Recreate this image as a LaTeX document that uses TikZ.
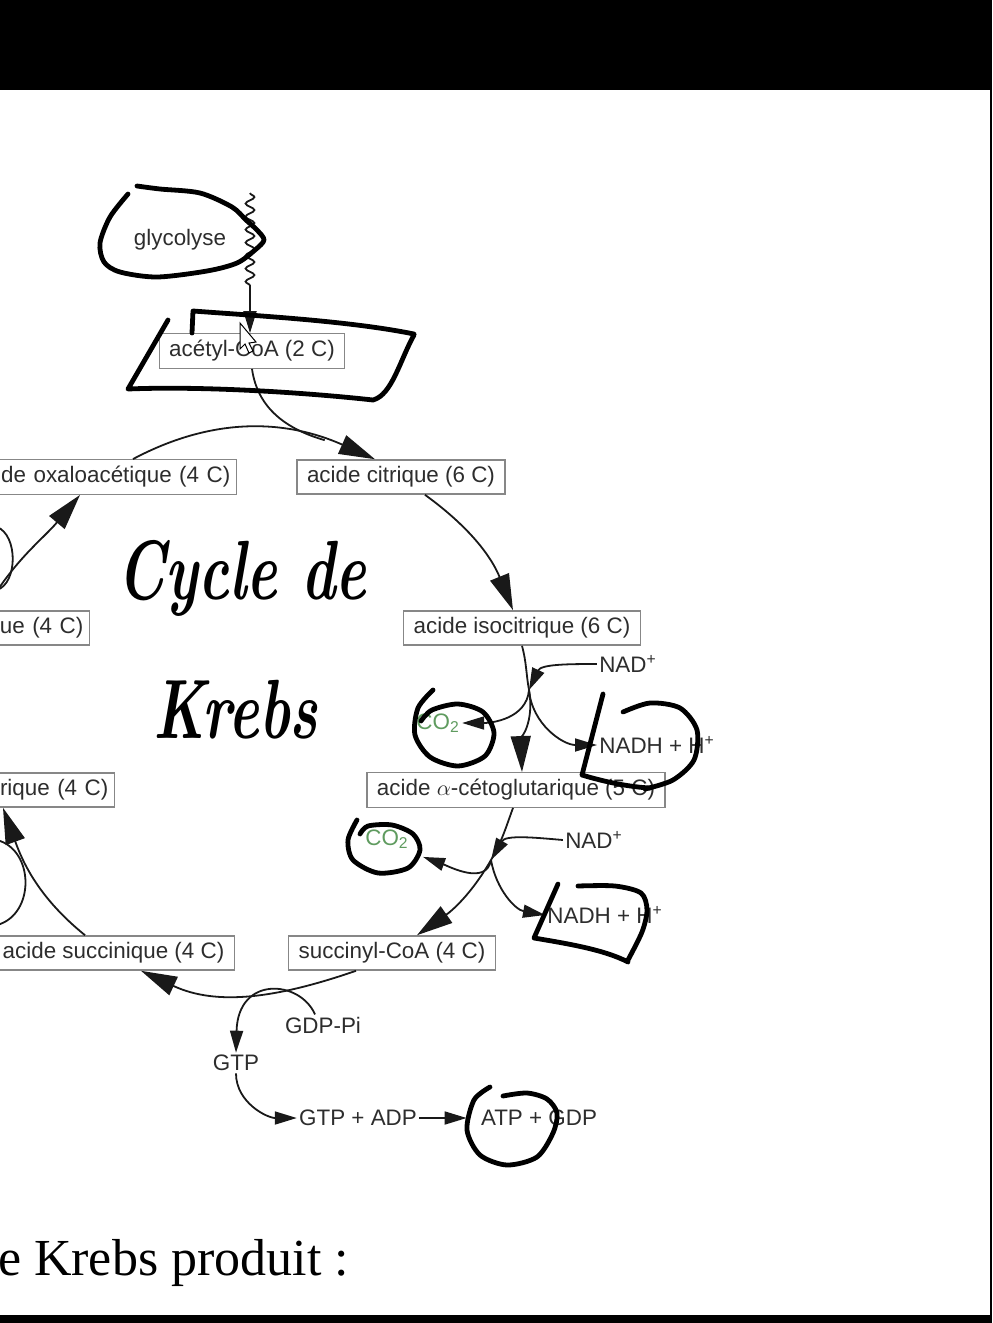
\documentclass[tikz,border=0pt]{standalone}
\usepackage{fontspec}
\setmainfont{Liberation Serif}
\newfontfamily\sansetiq{Liberation Sans}
\usetikzlibrary{arrows.meta,positioning,decorations.pathmorphing}

\definecolor{boxgris}{RGB}{135,135,135}
\definecolor{textegris}{RGB}{45,45,45}
\definecolor{flechenoir}{RGB}{25,25,25}
\definecolor{co2vert}{RGB}{95,155,95}

\tikzset{
    etape/.style={draw=boxgris, line width=0.7pt, inner xsep=5pt, minimum height=16pt, text=textegris, font=\sansetiq\fontsize{11.2}{13}\selectfont},
    coupe/.style={etape, anchor=east, align=right, inner xsep=3pt},
    molec/.style={inner sep=1pt, text=textegris, font=\sansetiq\fontsize{11.2}{13}\selectfont},
    gaz/.style={molec, text=co2vert},
    trait/.style={line width=0.9pt, draw=flechenoir},
    tour/.style={trait, -{Triangle[length=18pt,width=10pt]}},
    reac/.style={trait, -{Triangle[length=11pt,width=6.5pt]}},
    feutre/.style={line width=2.4pt, line cap=round, line join=round},
    manus/.style={font=\fontspec{Latin Modern Roman}\bfseries\itshape\fontsize{29}{34}\selectfont, yscale=1.45, transform shape},
}

\begin{document}
\begin{tikzpicture}[x=0.5pt, y=0.5pt]
    \useasboundingbox (0,0) rectangle (992,-1323);
    \clip (0,0) rectangle (992,-1323);
    \fill[black] (0,0) rectangle (992,-90);
    \fill[black] (0,-1315) rectangle (992,-1323);
    \fill[black] (990,0) rectangle (992,-1323);

    \node [molec] (glyco) at (180,-240) {glycolyse};
    \node [etape] (acetyl) at (252,-351) {acétyl-CoA (2 C)};
    \node [coupe, text width=130pt] (oxalo) at (237,-477) {de oxaloacétique (4 C)};
    \node [etape] (citrique) at (401,-477) {acide citrique (6 C)};
    \node [coupe, text width=60pt] (malique) at (90,-628) {ue (4 C)};
    \node [etape] (isocitrique) at (522,-628) {acide isocitrique (6 C)};
    \node [coupe, text width=70pt] (fumarique) at (115,-790) {rique (4 C)};
    \node [etape] (ceto) at (516,-790) {acide $\alpha$-cétoglutarique (5 C)};
    \node [etape, anchor=east] (succinique) at (235,-953) {acide succinique (4 C)};
    \node [etape] (succinyl) at (392,-953) {succinyl-CoA (4 C)};

    \node [molec] (nad1) at (628,-664) {NAD\textsuperscript{+}};
    \node [molec, anchor=west] (nadh1) at (597,-745) {NADH + H\textsuperscript{+}};
    \node [gaz, anchor=west] (co2a) at (414,-723) {CO\textsubscript{2}};
    \node [molec] (nad2) at (594,-840) {NAD\textsuperscript{+}};
    \node [molec, anchor=west] (nadh2) at (545,-915) {NADH + H\textsuperscript{+}};
    \node [gaz] (co2b) at (387,-839) {CO\textsubscript{2}};
    \node [molec] (gdp) at (323,-1025) {GDP-Pi};
    \node [molec] (gtp) at (236,-1063) {GTP};
    \node [molec] (gtpadp) at (358,-1118) {GTP + ADP};
    \node [molec] (atpgdp) at (539,-1118) {ATP + GDP};

    \coordinate (glydep) at (250,-193);
    \coordinate (j1) at (529,-690);
    \coordinate (j2) at (491,-860);
    \coordinate (fadhaut) at (-3,-840);
    \coordinate (fadbas) at (-3,-925);
    \coordinate (nadhaut) at (-3,-527);
    \coordinate (nadbas) at (-3,-590);

    \draw [reac, decorate, decoration={snake, amplitude=2.2pt, segment length=6.5pt, post length=22pt}] (glydep) -- (acetyl.north -| glydep);

    \draw [tour] ([xshift=-52pt]oxalo.north east) to[out=28, in=156] coordinate[pos=0.8] (fusion) ([xshift=-13pt]citrique.north);
    \draw [trait] (acetyl.south) to[out=-82, in=164] (fusion);
    \draw [tour] ([xshift=12pt]citrique.south) to[out=-36, in=112] ([xshift=-4.5pt]isocitrique.north);

    \draw [tour] (isocitrique.south) to[out=-75, in=100] (j1) to[out=-80, in=92] ([xshift=3pt]ceto.north);
    \draw [reac] (nad1.west) to[out=180, in=65] (j1);
    \draw [reac] (j1) to[out=-95, in=0] (co2a.east);
    \draw [reac] (j1) to[out=-85, in=180] (nadh1.west);

    \draw [tour] ([xshift=-1.5pt]ceto.south) to[out=-110, in=60] (j2) to[out=-120, in=35] ([xshift=12.5pt]succinyl.north);
    \draw [reac] (nad2.west) to[out=175, in=60] (j2);
    \draw [reac] (j2) to[out=-100, in=-20] ([shift={(6pt,-3pt)}]co2b.south east);
    \draw [reac] (j2) to[out=-80, in=170] (nadh2.west);

    \draw [tour] ([xshift=-18pt]succinyl.south) to[out=-161, in=-25] ([xshift=-47pt]succinique.south east);
    \draw [reac] ([xshift=-4pt]gdp.north) .. controls (300,-980) and (238,-975) .. (gtp.north);
    \draw [reac] (gtp.south) to[out=-90, in=180] (gtpadp.west);
    \draw [reac] (gtpadp.east) -- ([xshift=-6pt]atpgdp.west);

    \draw [tour] ([xshift=-75pt]succinique.north east) to[out=141, in=-70] ([xshift=-56pt]fumarique.south east);
    \draw [trait] (fadhaut) .. controls (35,-850) and (35,-915) .. (fadbas);
    \draw [tour] ([xshift=-52.5pt]malique.north east) to[out=60, in=-130] ([xshift=-78.5pt]oxalo.south east);
    \draw [trait] (nadhaut) .. controls (18,-535) and (18,-583) .. (nadbas);

    \draw [fill=white, line width=0.5pt] (240,-323) -- (240,-349) -- (245,-344) -- (249,-353) -- (253,-351) -- (249,-343) -- (256,-342) -- cycle;

    \draw [feutre] plot[smooth] coordinates {(128,-194) (110,-217) (100,-243) (104,-262) (120,-272) (157,-277) (207,-271) (237,-263) (255,-250) (264,-240) (257,-230) (246,-220) (232,-207) (200,-193) (160,-189) (137,-186)};
    \draw [feutre] (168,-320) -- (128,-389) .. controls (200,-386) and (300,-392) .. (373,-400) .. controls (392,-395) and (400,-360) .. (414,-335);
    \draw [feutre] (192,-333) -- (193,-311) .. controls (260,-316) and (350,-321) .. (414,-334);
    \draw [feutre] plot[smooth] coordinates {(433,-690) (418,-708) (415,-735) (430,-757) (458,-766) (485,-756) (494,-733) (483,-712) (458,-704) (432,-710) (421,-721)};
    \draw [feutre] (603,-694) -- (582,-775) .. controls (605,-782) and (630,-787) .. (650,-788);
    \draw [feutre] plot[smooth] coordinates {(623,-712) (650,-703) (680,-708) (697,-730) (694,-760) (673,-780) (645,-789)};
    \draw [feutre] plot[smooth] coordinates {(357,-820) (348,-840) (353,-860) (378,-873) (408,-868) (420,-850) (413,-834) (392,-825) (368,-826) (360,-834)};
    \draw [feutre] (558,-884) -- (534,-938) .. controls (570,-944) and (605,-950) .. (628,-962);
    \draw [feutre] plot[smooth] coordinates {(578,-886) (615,-886) (641,-893) (647,-910) (642,-932) (628,-960)};
    \draw [feutre] plot[smooth] coordinates {(490,-1087) (474,-1100) (467,-1130) (480,-1155) (507,-1165) (537,-1157) (553,-1133) (557,-1113) (547,-1099) (527,-1093) (503,-1096)};

    \node [manus] (titre1) at (242,-578) {Cycle de};
    \node [manus] (titre2) at (236,-710) {Krebs};

    \node [anchor=base east, font=\fontsize{26}{30}\selectfont] (produit) at (356,-1275) {e Krebs produit :};
\end{tikzpicture}
\end{document}
